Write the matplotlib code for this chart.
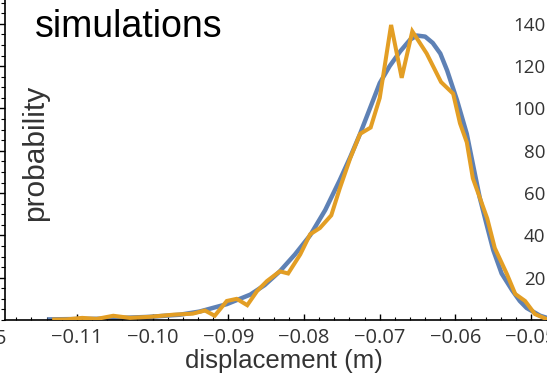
import matplotlib
matplotlib.use("Agg")
from matplotlib import pyplot as plt
from matplotlib.ticker import MultipleLocator

# simulated displacement histogram (orange) and smooth fit (blue)
hist_x = [-0.1130, -0.1113, -0.1093, -0.1074, -0.1052, -0.1030, -0.1004, -0.0973,
          -0.0947, -0.0931, -0.0918, -0.0902, -0.0889, -0.0875, -0.0862, -0.0849,
          -0.0832, -0.0821, -0.0805, -0.0792, -0.0779, -0.0764, -0.0753, -0.0739,
          -0.0726, -0.0712, -0.0700, -0.0685, -0.0671, -0.0657, -0.0638, -0.0619,
          -0.0603, -0.0594, -0.0585, -0.0577, -0.0558, -0.0548, -0.0532, -0.0521,
          -0.0508, -0.0495, -0.0480]
hist_y = [0.2, 0.3, 1.0, 0.5, 2.0, 1.0, 1.5, 2.5,
          3.0, 4.5, 2.0, 9.0, 10.0, 7.0, 13.7, 18.4,
          23.0, 22.0, 31.0, 40.5, 43.5, 49.5, 62.0, 76.5,
          88.0, 91.0, 105.0, 139.5, 114.5, 136.5, 126.0, 112.5,
          107.0, 93.0, 84.0, 67.0, 48.0, 34.0, 21.7, 12.3,
          9.0, 2.8, 0.5]

fit_x = [-0.1136, -0.1070, -0.1004, -0.0964, -0.0938, -0.0902, -0.0871, -0.0852,
         -0.0832, -0.0812, -0.0792, -0.0772, -0.0753, -0.0739, -0.0726, -0.0713,
         -0.0700, -0.0687, -0.0673, -0.0660, -0.0651, -0.0640, -0.0630, -0.0620,
         -0.0611, -0.0598, -0.0585, -0.0576, -0.0568, -0.0558, -0.0550, -0.0539,
         -0.0525, -0.0515, -0.0506, -0.0488, -0.0479]
fit_y = [0.3, 0.6, 1.5, 2.5, 4.0, 7.5, 12.0, 16.5,
         23.0, 31.0, 40.0, 52.0, 66.0, 77.0, 88.0, 100.0,
         112.0, 120.0, 127.0, 132.5, 134.5, 134.0, 131.0, 126.0,
         118.0, 104.0, 88.0, 72.0, 58.0, 44.0, 33.0, 22.0,
         14.0, 9.0, 5.7, 2.0, 1.0]

x_major = [-0.11, -0.10, -0.09, -0.08, -0.07, -0.06, -0.05]
y_labels = [20, 40, 60, 80, 100, 120, 140]

tick_font = ["Open Sans", "DejaVu Sans"]
tick_color = "#333333"

W, H = 547, 381
fig = plt.figure(figsize=(W / 100, H / 100), dpi=100)

x_left, x_right = -0.1195, -0.045
y_top = 151.3
ax = fig.add_axes([5 / W, 61 / H, (569 - 5) / W, 320 / H])
ax.plot(fit_x, fit_y, color="#5E81B5", lw=3.2, solid_joinstyle="round", zorder=2)
ax.plot(hist_x, hist_y, color="#E39E24", lw=2.9, solid_joinstyle="miter", zorder=3)
ax.set_xlim(x_left, x_right)
ax.set_ylim(0, y_top)

for side in ["top", "right"]:
    ax.spines[side].set_visible(False)
ax.spines["bottom"].set_linewidth(1.2)
ax.spines["left"].set_linewidth(1.2)

ax.set_xticks(x_major)
ax.set_xticklabels(["\u2212" + f"{abs(v):.2f}" for v in x_major],
                   fontfamily=tick_font, fontsize=14.5, color=tick_color)
ax.xaxis.set_minor_locator(MultipleLocator(0.002))
ax.tick_params(axis="x", which="major", direction="in", length=4, width=1, pad=6)
ax.tick_params(axis="x", which="minor", direction="in", length=2.5, width=0.8)

ax.yaxis.set_major_locator(MultipleLocator(20))
ax.yaxis.set_minor_locator(MultipleLocator(5))
ax.tick_params(axis="y", which="major", direction="out", length=5, width=1, labelleft=False)
ax.tick_params(axis="y", which="minor", direction="out", length=3, width=0.8)

# right-hand scale labels, drawn inside the frame edge
ax2 = fig.add_axes([5 / W, 61 / H, (547 - 5) / W, 320 / H], sharey=ax)
ax2.patch.set_visible(False)
for side in ax2.spines:
    ax2.spines[side].set_visible(False)
ax2.set_xticks([])
ax2.yaxis.tick_right()
ax2.set_yticks(y_labels)
ax2.set_yticklabels([str(v) for v in y_labels], fontfamily=tick_font,
                    fontsize=13.5, color=tick_color, ha="right")
ax2.tick_params(axis="y", length=0, pad=-1)
ax.set_ylim(0, y_top)

fig.text(284 / W, 1 - 361 / H, "displacement (m)", ha="center", va="center",
         fontfamily="Liberation Sans", fontsize=18.5, color="#333333")
fig.text(35 / W, 1 - 153 / H, "probability", ha="center", va="center", rotation=90,
         fontfamily="Liberation Sans", fontsize=21.5, color="#333333")
fig.text(35 / W, 1 - 37 / H, "simulations", ha="left", va="baseline",
         fontfamily="Liberation Sans", fontsize=27, color="black")
fig.text(6 / W, 1 - 339 / H, "5", ha="right", va="center",
         fontfamily=tick_font, fontsize=14.5, color=tick_color)

fig.savefig("out.png", dpi=100)
